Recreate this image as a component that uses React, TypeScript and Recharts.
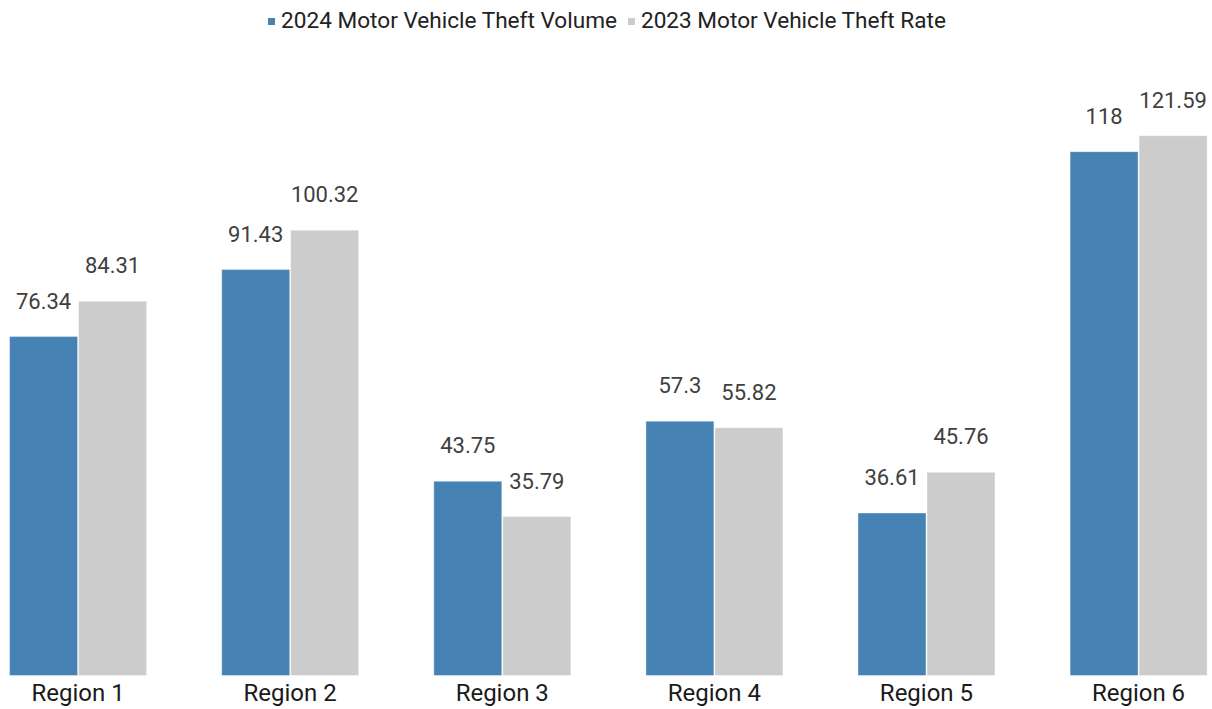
import React from "react";
import { BarChart, Bar, XAxis, YAxis, Legend, LabelList } from "recharts";

const categories = ["Region 1", "Region 2", "Region 3", "Region 4", "Region 5", "Region 6"];
const volume2024 = [76.34, 91.43, 43.75, 57.3, 36.61, 118];
const rate2023 = [84.31, 100.32, 35.79, 55.82, 45.76, 121.59];
const seriesNames = ["2024 Motor Vehicle Theft Volume", "2023 Motor Vehicle Theft Rate"];
const seriesColors = ["#4682B4", "#CCCCCC"];

const data = categories.map((c, i) => ({
  name: c,
  v2024: volume2024[i],
  r2023: rate2023[i],
}));

const FONT = "Roboto, 'Noto Sans', sans-serif";

const LegendContent = () => (
  <div
    style={{
      display: "flex",
      justifyContent: "center",
      alignItems: "center",
      height: 26,
      fontFamily: FONT,
      fontSize: 22.6,
      color: "#222222",
      paddingRight: 2,
      whiteSpace: "nowrap",
    }}
  >
    {seriesNames.map((n, i) => (
      <div key={n} style={{ display: "flex", alignItems: "center", marginRight: i === 0 ? 11 : 0 }}>
        <span
          style={{
            display: "inline-block",
            width: 7,
            height: 7,
            background: seriesColors[i],
            marginRight: 6,
          }}
        />
        <span style={{ lineHeight: "26px" }}>{n}</span>
      </div>
    ))}
  </div>
);

export default function App() {
  return (
    <div
      style={{
        position: "absolute",
        left: 0,
        top: 0,
        width: 1212,
        height: 709,
        overflow: "hidden",
        background: "#ffffff",
      }}
    >
      <div style={{ position: "absolute", left: -28.3, top: 0 }}>
        <BarChart
          width={1272.6}
          height={709}
          data={data}
          margin={{ top: 28, right: 0, bottom: 3.5, left: 0 }}
          barCategoryGap={37.6}
          barGap={1}
          style={{ fontFamily: FONT }}
        >
          <Legend
            verticalAlign="top"
            align="center"
            content={<LegendContent />}
            wrapperStyle={{ top: 8 }}
          />
          <XAxis
            dataKey="name"
            axisLine={false}
            tickLine={false}
            height={30}
            tick={{ fontSize: 24, fill: "#1a1a1a", fontFamily: FONT }}
            interval={0}
          />
          <YAxis hide domain={[0, 140]} />
          <Bar dataKey="v2024" fill={seriesColors[0]} stroke="#ffffff" strokeOpacity={0.4} strokeWidth={1} isAnimationActive={false}>
            <LabelList dataKey="v2024" position="top" offset={28} style={{ fontSize: 22, fill: "#404040", fontFamily: FONT }} />
          </Bar>
          <Bar dataKey="r2023" fill={seriesColors[1]} stroke="#ffffff" strokeOpacity={0.4} strokeWidth={1} isAnimationActive={false}>
            <LabelList dataKey="r2023" position="top" offset={28} style={{ fontSize: 22, fill: "#404040", fontFamily: FONT }} />
          </Bar>
        </BarChart>
      </div>
    </div>
  );
}
